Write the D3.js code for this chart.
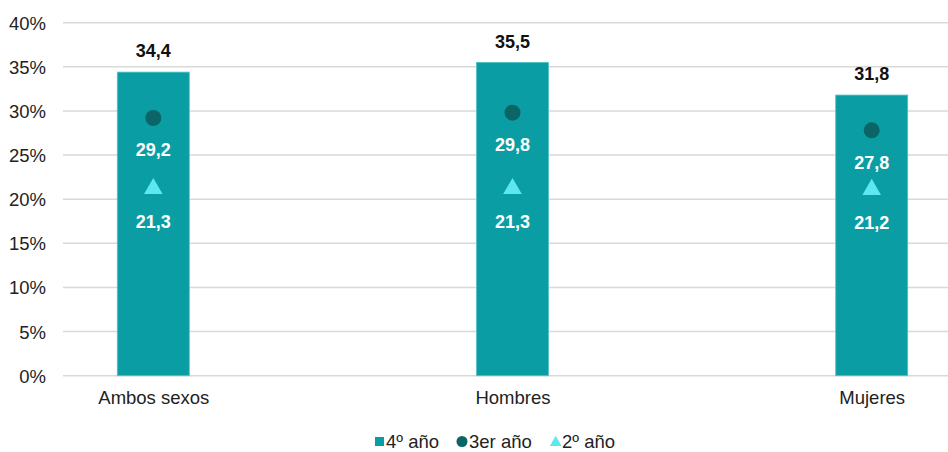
<!DOCTYPE html>
<html><head><meta charset="utf-8">
<script src="https://cdn.jsdelivr.net/npm/d3@7"></script>
<style>body{margin:0;background:#fff}svg{display:block;font-family:"Liberation Sans",Arial,sans-serif}</style>
</head><body><svg id="c" width="948" height="452"></svg>
<script>
const categories = ["Ambos sexos", "Hombres", "Mujeres"];
const cuarto = [34.4, 35.5, 31.8];
const tercero = [29.2, 29.8, 27.8];
const segundo = [21.3, 21.3, 21.2];
const yTicks = [0, 5, 10, 15, 20, 25, 30, 35, 40];
const seriesNames = ["4º año", "3er año", "2º año"];

const svg = d3.select("#c");
const colBar = "#0A9EA4", colDot = "#0B6566", colTri = "#5CE8EE";
const fmt = v => v.toFixed(1).replace(".", ",");
const FS = 18.5, FSB = 18;

const x = d3.scalePoint().domain(categories).range([63, 962]).padding(0.2514);
const y = d3.scaleLinear().domain([0, 40]).range([375.7, 22.7]);

// gridlines
svg.append("g").selectAll("line").data(yTicks).join("line")
  .attr("x1", 63).attr("x2", 962)
  .attr("y1", d => y(d)).attr("y2", d => y(d))
  .attr("stroke", "#d9d9d9").attr("stroke-width", 1.5);

// y axis labels
const yAxis = d3.axisLeft(y).tickValues(yTicks).tickFormat(d => d + "%").tickSize(0).tickPadding(0);
const ya = svg.append("g").attr("transform", "translate(46,0)").call(yAxis);
ya.select(".domain").remove();
ya.selectAll("text").attr("font-size", FS).attr("fill", "#222").attr("font-family", "Liberation Sans, Arial, sans-serif").attr("dy", "0.35em");

// x axis labels
const xAxis = d3.axisBottom(x).tickSize(0).tickPadding(0);
const xa = svg.append("g").attr("transform", "translate(0,398)").call(xAxis);
xa.select(".domain").remove();
xa.selectAll("text").attr("font-size", FS).attr("fill", "#222").attr("font-family", "Liberation Sans, Arial, sans-serif").attr("dy", "0.35em");

const bw = 72;
// bars
svg.append("g").selectAll("rect").data(categories).join("rect")
  .attr("x", d => x(d) - bw / 2).attr("width", bw)
  .attr("y", (d, i) => y(cuarto[i])).attr("height", (d, i) => y(0) - y(cuarto[i]))
  .attr("fill", colBar).attr("stroke", "#4fc3c7").attr("stroke-width", 0.8);

// bar labels
svg.append("g").selectAll("text").data(categories).join("text")
  .attr("x", d => x(d)).attr("y", (d, i) => y(cuarto[i]) - 21)
  .attr("dy", "0.35em").attr("text-anchor", "middle")
  .attr("font-size", FSB).attr("font-weight", "bold").attr("fill", "#111")
  .text((d, i) => fmt(cuarto[i]));

// dots
svg.append("g").selectAll("circle").data(categories).join("circle")
  .attr("cx", d => x(d)).attr("cy", (d, i) => y(tercero[i])).attr("r", 8)
  .attr("fill", colDot);
svg.append("g").selectAll("text").data(categories).join("text")
  .attr("x", d => x(d)).attr("y", (d, i) => y(tercero[i]) + 32)
  .attr("dy", "0.35em").attr("text-anchor", "middle")
  .attr("font-size", FSB).attr("font-weight", "bold").attr("fill", "#fff")
  .text((d, i) => fmt(tercero[i]));

// triangles
const tri = d3.symbol().type(d3.symbolTriangle).size(150);
svg.append("g").selectAll("path").data(categories).join("path")
  .attr("transform", (d, i) => `translate(${x(d)},${y(segundo[i]) + 1})`)
  .attr("d", tri).attr("fill", colTri);
svg.append("g").selectAll("text").data(categories).join("text")
  .attr("x", d => x(d)).attr("y", (d, i) => y(segundo[i]) + 34)
  .attr("dy", "0.35em").attr("text-anchor", "middle")
  .attr("font-size", FSB).attr("font-weight", "bold").attr("fill", "#fff")
  .text((d, i) => fmt(segundo[i]));

// legend
const lg = svg.append("g").attr("font-size", FS).attr("fill", "#222");
const ly = 441.5;
lg.append("rect").attr("x", 375).attr("y", ly - 4.5).attr("width", 9).attr("height", 9).attr("fill", colBar);
lg.append("text").attr("x", 386).attr("y", ly).attr("dy", "0.35em").text(seriesNames[0]);
lg.append("circle").attr("cx", 462).attr("cy", ly).attr("r", 5.5).attr("fill", colDot);
lg.append("text").attr("x", 469).attr("y", ly).attr("dy", "0.35em").text(seriesNames[1]);
lg.append("path").attr("transform", `translate(555.7,${ly + 1})`).attr("d", d3.symbol().type(d3.symbolTriangle).size(60)).attr("fill", colTri);
lg.append("text").attr("x", 562).attr("y", ly).attr("dy", "0.35em").text(seriesNames[2]);
</script></body></html>
